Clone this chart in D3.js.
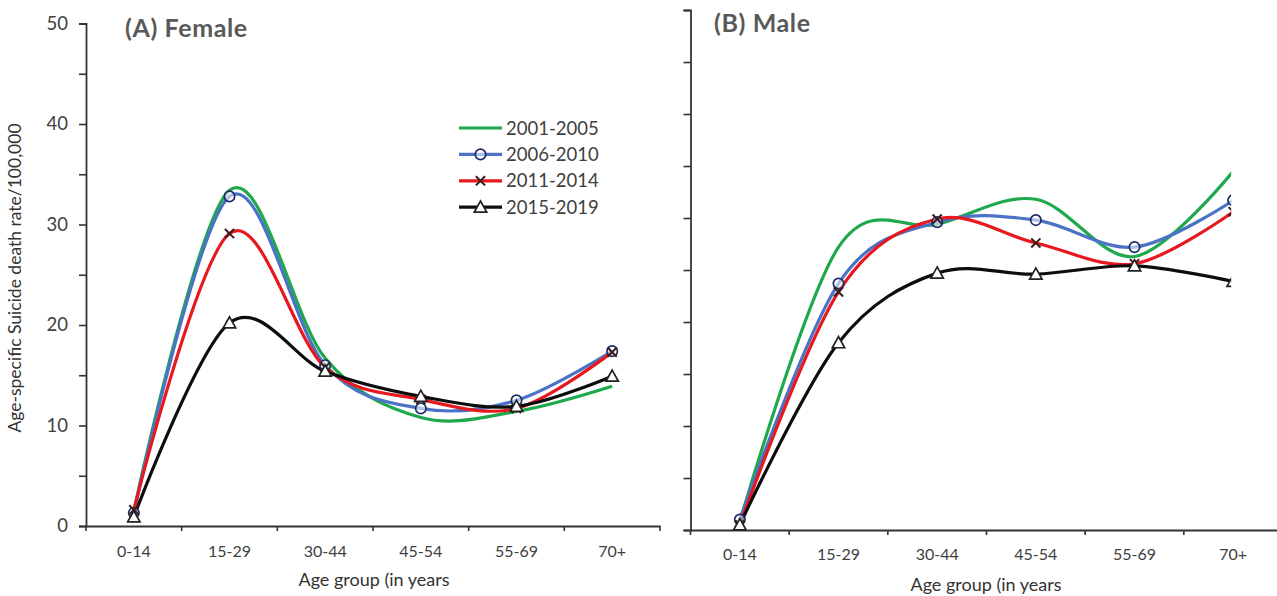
<!DOCTYPE html>
<html>
<head>
<meta charset="utf-8">
<script src="https://cdn.jsdelivr.net/npm/d3@7"></script>
<style>
  body { margin: 0; background: #fff; }
  svg { display: block; }
  text { font-family: Lato, "Open Sans", sans-serif; }
</style>
</head>
<body>
<svg id="chart" width="1277" height="596"></svg>
<script>
// Age-specific suicide death rate per 100,000, by age group and period
const ageGroups = ["0-14", "15-29", "30-44", "45-54", "55-69", "70+"];
const periods = ["2001-2005", "2006-2010", "2011-2014", "2015-2019"];

const female2001 = [1.5, 33.4, 16.7, 10.8, 11.4, 13.9];
const female2006 = [1.3, 32.8, 16.0, 11.7, 12.5, 17.4];
const female2011 = [1.6, 29.1, 15.8, 12.6, 11.7, 17.3];
const female2015 = [0.9, 20.2, 15.4, 12.9, 11.9, 14.9];

const male2001 = [0.8, 27.2, 29.4, 31.8, 26.3, 34.5];
const male2006 = [1.0, 23.7, 29.6, 29.8, 27.2, 31.7];
const male2011 = [0.5, 22.9, 29.9, 27.6, 25.6, 30.6];
const male2015 = [0.5, 18.0, 24.7, 24.6, 25.4, 23.9];

const yTickValues = [0, 5, 10, 15, 20, 25, 30, 35, 40, 45, 50];
const yLabelValues = [0, 10, 20, 30, 40, 50];

const seriesStyle = [
  { color: "#1fa84c", marker: "none" },
  { color: "#4a73c6", marker: "circle" },
  { color: "#e8181f", marker: "cross" },
  { color: "#0d0d0d", marker: "triangle" }
];

const svg = d3.select("#chart");
const axisColor = "#333";

function drawMarker(g, type, x, y) {
  if (type === "circle") {
    g.append("circle").attr("cx", x).attr("cy", y).attr("r", 5.2)
      .attr("fill", "rgba(255,255,255,0.55)").attr("stroke", "#1d2c66").attr("stroke-width", 1.7);
  } else if (type === "cross") {
    const s = 4.6;
    g.append("path")
      .attr("d", `M${x - s},${y - s}L${x + s},${y + s}M${x - s},${y + s}L${x + s},${y - s}`)
      .attr("stroke", "#3a1c1c").attr("stroke-width", 2).attr("fill", "none");
  } else if (type === "triangle") {
    const s = 6.2;
    g.append("path")
      .attr("d", `M${x},${y - s}L${x + s},${y + s * 0.8}L${x - s},${y + s * 0.8}Z`)
      .attr("fill", "#fff").attr("stroke", "#222").attr("stroke-width", 1.7);
  }
}

function drawPanel(opts) {
  const { left, right, top, bottom, series, showLabels, clipEnd, id } = opts;
  const x = d3.scaleBand().domain(ageGroups).range([left, right]).paddingInner(0).paddingOuter(0);
  const y = d3.scaleLinear().domain([0, 50]).range([bottom, top]);
  const cx = d => x(d) + x.bandwidth() / 2;

  // y axis
  const yAxis = d3.axisLeft(y).tickValues(yTickValues).tickSize(7).tickPadding(11)
    .tickFormat(v => (showLabels && yLabelValues.includes(v)) ? v : "");
  const gy = svg.append("g").attr("transform", `translate(${left},0)`).call(yAxis);
  gy.select(".domain").attr("stroke", axisColor).attr("stroke-width", 1.8);
  gy.selectAll(".tick line").attr("stroke", axisColor).attr("stroke-width", 1.6);
  gy.selectAll(".tick text").attr("fill", "#404040").style("font-size", "18.5px");

  // x axis with labels centred in each band
  const xAxis = d3.axisBottom(x).tickSize(0).tickPadding(opts.xPad).tickSizeOuter(0);
  const gx = svg.append("g").attr("transform", `translate(0,${bottom})`).call(xAxis);
  gx.select(".domain").attr("stroke", axisColor).attr("stroke-width", 1.8);
  gx.selectAll(".tick text").attr("fill", "#404040").style("font-size", "16px");

  // boundary tick marks between age groups
  const edges = ageGroups.map(a => x(a)).concat([x(ageGroups[ageGroups.length - 1]) + x.bandwidth()]);
  gx.selectAll("line.edge").data(edges).enter().append("line").attr("class", "edge")
    .attr("x1", d => d).attr("x2", d => d).attr("y1", 0).attr("y2", 5)
    .attr("stroke", axisColor).attr("stroke-width", 1.6);

  // clipping of the plot area
  const clipId = "clip-" + id;
  svg.append("clipPath").attr("id", clipId).append("rect")
    .attr("x", left).attr("y", 0)
    .attr("width", (clipEnd ? clipEnd(cx) : right + 20) - left)
    .attr("height", bottom + 10);

  const plot = svg.append("g").attr("clip-path", `url(#${clipId})`);
  const line = d3.line()
    .x((d, i) => cx(ageGroups[i]))
    .y(d => y(d))
    .curve(d3.curveCatmullRom.alpha(0));

  series.forEach((vals, k) => {
    plot.append("path").datum(vals).attr("d", line)
      .attr("fill", "none").attr("stroke", seriesStyle[k].color)
      .attr("stroke-width", 3.2).attr("stroke-linejoin", "round");
  });
  series.forEach((vals, k) => {
    vals.forEach((v, i) => drawMarker(plot, seriesStyle[k].marker, cx(ageGroups[i]), y(v)));
  });
  return { x, y };
}

// (A) Female
drawPanel({
  id: "female", left: 86, right: 660, top: 23.5, bottom: 526, xPad: 20,
  series: [female2001, female2006, female2011, female2015], showLabels: true
});

// (B) Male
drawPanel({
  id: "male", left: 690.5, right: 1282.5, top: 10, bottom: 530, xPad: 19,
  series: [male2001, male2006, male2011, male2015], showLabels: false,
  clipEnd: cx => cx("70+") - 2
});

// Panel titles
svg.append("text").attr("x", 125).attr("y", 37).text("(A) Female")
  .attr("fill", "#595959").style("font-size", "25px").style("font-weight", "bold")
  .style("letter-spacing", "0.6px");
svg.append("text").attr("x", 714).attr("y", 32).text("(B) Male")
  .attr("fill", "#595959").style("font-size", "25px").style("font-weight", "bold")
  .style("letter-spacing", "0.6px");

// Axis titles
svg.append("text").attr("transform", "translate(21,278) rotate(-90)")
  .attr("text-anchor", "middle").text("Age-specific Suicide death rate/100,000")
  .attr("fill", "#333").style("font-size", "17.5px");
svg.append("text").attr("x", 374).attr("y", 586).attr("text-anchor", "middle")
  .text("Age group (in years").attr("fill", "#333").style("font-size", "18px");
svg.append("text").attr("x", 986).attr("y", 591).attr("text-anchor", "middle")
  .text("Age group (in years").attr("fill", "#333").style("font-size", "18px");

// Legend
const legend = svg.append("g").attr("transform", "translate(459,128)");
periods.forEach((p, k) => {
  const gy = k * 26.4;
  legend.append("line").attr("x1", 0).attr("x2", 43).attr("y1", gy).attr("y2", gy)
    .attr("stroke", seriesStyle[k].color).attr("stroke-width", 3.2);
  drawMarker(legend, seriesStyle[k].marker, 21.5, gy);
  legend.append("text").attr("x", 47).attr("y", gy).attr("dy", "0.36em").text(p)
    .attr("fill", "#404040").style("font-size", "18.5px");
});
</script>
</body>
</html>
